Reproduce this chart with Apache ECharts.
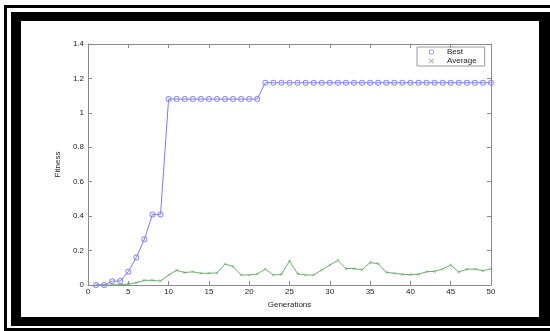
<!DOCTYPE html>
<html>
<head>
<meta charset="utf-8">
<script src="https://cdn.jsdelivr.net/npm/echarts@6/dist/echarts.min.js"></script>
<style>
html,body{margin:0;padding:0;background:#fff;}
#c{width:550px;height:331px;}
</style>
</head>
<body>
<div id="c"></div>
<script>
var generations = [];
for (var g = 1; g <= 50; g++) generations.push(g);
var best = [0, 0, 0.022, 0.023, 0.077, 0.16, 0.266, 0.41, 0.41,
  1.08, 1.08, 1.08, 1.08, 1.08, 1.08, 1.08, 1.08, 1.08, 1.08, 1.08, 1.08,
  1.175, 1.175, 1.175, 1.175, 1.175, 1.175, 1.175, 1.175, 1.175, 1.175,
  1.175, 1.175, 1.175, 1.175, 1.175, 1.175, 1.175, 1.175, 1.175, 1.175,
  1.175, 1.175, 1.175, 1.175, 1.175, 1.175, 1.175, 1.175, 1.175];
var average = [0, 0, 0, 0.002, 0.005, 0.013, 0.027, 0.027, 0.023, 0.058,
  0.085, 0.072, 0.077, 0.068, 0.068, 0.07, 0.122, 0.107, 0.058, 0.058,
  0.064, 0.093, 0.058, 0.062, 0.14, 0.066, 0.058, 0.058, 0.087, 0.116,
  0.143, 0.095, 0.095, 0.089, 0.13, 0.124, 0.074, 0.068, 0.062, 0.06,
  0.062, 0.077, 0.079, 0.093, 0.116, 0.076, 0.091, 0.093, 0.083, 0.093];
var seriesNames = ['Best', 'Average'];
var xTitle = 'Generations';
var yTitle = 'Fitness';

var blue = '#7a7af2';
var blueMark = '#8c8cf0';
var green = '#6aae6a';
var axisCol = '#8a8a8a';
var textCol = '#222';
var font = 'Liberation Sans, Arial, sans-serif';
var xMark = 'path://M0,1 L1,0 L5,4 L9,0 L10,1 L6,5 L10,9 L9,10 L5,6 L1,10 L0,9 L4,5 Z';
var ring = 'path://M5,0 A5,5 0 1,1 4.99,0 Z M5,1.6 A3.4,3.4 0 1,0 5.01,1.6 Z';

function pairs(arr) { return arr.map(function (v, i) { return [generations[i], v]; }); }

var chart = echarts.init(document.getElementById('c'), null, {renderer: 'canvas'});
var axisCommon = {
  axisLine: {show: true, onZero: false, lineStyle: {color: axisCol, width: 1}},
  axisTick: {show: true, inside: true, length: 4, lineStyle: {color: axisCol}},
  splitLine: {show: false}
};
chart.setOption({
  animation: false,
  backgroundColor: '#fff',
  graphic: [
    {type: 'rect', z: -10, silent: true, shape: {x: 4, y: 5, width: 560, height: 340}, style: {fill: '#000'}},
    {type: 'rect', z: -9, silent: true, shape: {x: 7, y: 8, width: 560, height: 320}, style: {fill: '#fff'}},
    {type: 'rect', z: -8, silent: true, shape: {x: 11, y: 12, width: 560, height: 314}, style: {fill: '#000'}},
    {type: 'rect', z: -7, silent: true, shape: {x: 21, y: 21, width: 518, height: 296}, style: {fill: '#fff'}}
  ],
  grid: {left: 88, right: 59, top: 44, bottom: 46, containLabel: false},
  legend: {
    orient: 'vertical',
    left: 417, top: 47,
    width: 70,
    borderColor: '#999', borderWidth: 1,
    padding: [1, 8, 1, 12],
    itemGap: 1,
    itemWidth: 5, itemHeight: 5,
    textStyle: {fontSize: 8, color: textCol, fontFamily: font, padding: [0, 0, 0, 8]},
    data: [
      {name: seriesNames[0], icon: ring, itemStyle: {color: blueMark}},
      {name: seriesNames[1], icon: xMark, itemStyle: {color: green}}
    ]
  },
  xAxis: [
    Object.assign({
      type: 'value', min: 0, max: 50, interval: 5, position: 'bottom',
      name: xTitle, nameLocation: 'middle', nameGap: 9,
      nameTextStyle: {fontSize: 8, color: textCol, fontFamily: font},
      axisLabel: {fontSize: 8, color: textCol, margin: 3, fontFamily: font}
    }, axisCommon),
    Object.assign({
      type: 'value', min: 0, max: 50, interval: 5, position: 'top',
      axisLabel: {show: false}
    }, axisCommon)
  ],
  yAxis: [
    Object.assign({
      type: 'value', min: 0, max: 1.4, interval: 0.2, position: 'left',
      name: yTitle, nameLocation: 'middle', nameGap: 19, nameRotate: 90,
      nameTextStyle: {fontSize: 8, color: textCol, fontFamily: font},
      axisLabel: {fontSize: 8, color: textCol, margin: 4, fontFamily: font}
    }, axisCommon),
    Object.assign({
      type: 'value', min: 0, max: 1.4, interval: 0.2, position: 'right',
      axisLabel: {show: false}
    }, axisCommon)
  ],
  series: [
    {
      name: seriesNames[0], type: 'line', data: pairs(best),
      xAxisIndex: 0, yAxisIndex: 0,
      symbol: ring, symbolSize: 6,
      lineStyle: {color: blue, width: 1},
      itemStyle: {color: blueMark},
      z: 3
    },
    {
      name: seriesNames[1], type: 'line', data: pairs(average),
      xAxisIndex: 0, yAxisIndex: 0,
      symbol: xMark, symbolSize: 3,
      lineStyle: {color: green, width: 1},
      itemStyle: {color: green},
      z: 2
    }
  ]
});
</script>
</body>
</html>
